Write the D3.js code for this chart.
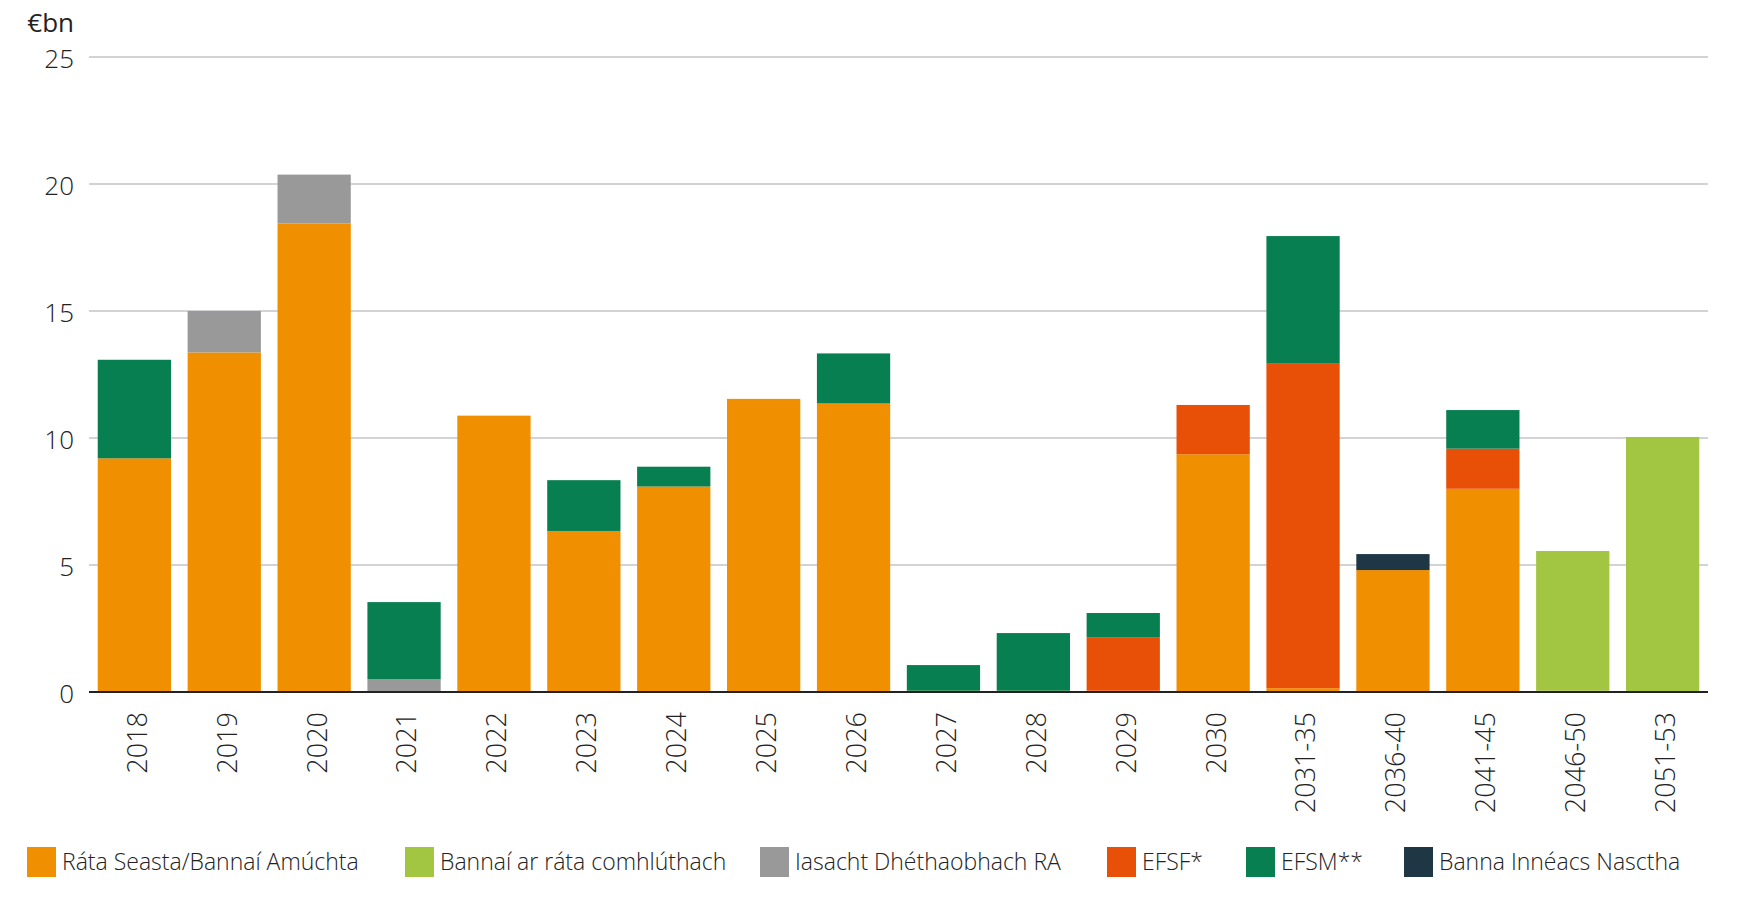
<!DOCTYPE html>
<html><head><meta charset="utf-8">
<script src="https://cdn.jsdelivr.net/npm/d3@7"></script>
<style>
html,body{margin:0;padding:0;background:#fff;}
text{font-family:"Open Sans",sans-serif;font-weight:300;fill:#222;}
</style></head>
<body><svg id="chart" width="1742" height="912"></svg>
<script>
const categories = ["2018","2019","2020","2021","2022","2023","2024","2025","2026","2027","2028","2029","2030","2031-35","2036-40","2041-45","2046-50","2051-53"];
const seriesNames = ["Ráta Seasta/Bannaí Amúchta","Bannaí ar ráta comhlúthach","Iasacht Dhéthaobhach RA","EFSF*","EFSM**","Banna Innéacs Nasctha"];
const seriesColors = ["#F08F00","#A2C542","#999999","#E84F07","#087F50","#1F3744"];
const fixedRate   = [9.2,13.37,18.45,0.03,10.88,6.34,8.09,11.54,11.36,0.05,0.05,0.05,9.36,0.15,4.8,8.0,0.05,0];
const floatingRate= [0,0,0,0,0,0,0,0,0,0,0,0,0,0,0,0,5.5,10.04];
const bilateralUK = [0,1.63,1.92,0.48,0,0,0,0,0,0,0,0,0,0,0,0,0,0];
const efsf        = [0,0,0,0,0,0,0,0,0,0,0,2.09,1.94,12.8,0,1.58,0,0];
const efsm        = [3.88,0,0,3.03,0,2.0,0.78,0,1.97,1.01,2.27,0.97,0,5.0,0,1.52,0,0];
const linkedBond  = [0,0,0,0,0,0,0,0,0,0,0,0,0,0,0.63,0,0,0];
const yTicks = [0,5,10,15,20,25];
const unitLabel = "€bn";

const seriesValues = [fixedRate,floatingRate,bilateralUK,efsf,efsm,linkedBond];
const rows = categories.map((c,i)=>{const r={cat:c}; seriesNames.forEach((s,j)=>r[s]=seriesValues[j][i]); return r;});

const svg = d3.select("#chart");
const m = {left:89,right:1708,top:57,bottom:692};
const x = d3.scaleBand().domain(categories).range([m.left,m.right]).paddingInner(0.185).paddingOuter(0.097);
const y = d3.scaleLinear().domain([0,25]).range([m.bottom,m.top]);

// gridlines
svg.append("g").selectAll("line").data(yTicks.filter(t=>t>0)).join("line")
  .attr("x1",m.left).attr("x2",m.right).attr("y1",d=>y(d)).attr("y2",d=>y(d))
  .attr("stroke","#c5c5ca").attr("stroke-width",1.6);

// y axis labels
const yAxis = d3.axisLeft(y).tickValues(yTicks).tickSize(0).tickPadding(15);
const yg = svg.append("g").attr("transform",`translate(${m.left},0)`).call(yAxis);
yg.select(".domain").remove();
yg.selectAll("text").style("font-size","26px").style("font-family","'Open Sans',sans-serif").style("font-weight",300).attr("fill","#222").attr("dy","0.42em");

svg.append("text").attr("x",74).attr("y",32).attr("text-anchor","end").style("font-size","26px").style("font-weight",400).text(unitLabel);

// stacked bars
const stack = d3.stack().keys(seriesNames)(rows);
svg.append("g").selectAll("g").data(stack).join("g").attr("fill",(d,i)=>seriesColors[i])
  .selectAll("rect").data(d=>d).join("rect")
  .attr("x",d=>x(d.data.cat)).attr("width",x.bandwidth())
  .attr("y",d=>y(d[1])).attr("height",d=>Math.max(0,y(d[0])-y(d[1])));

// baseline
svg.append("line").attr("x1",m.left).attr("x2",m.right).attr("y1",y(0)).attr("y2",y(0)).attr("stroke","#222").attr("stroke-width",2);

// x axis labels
const xAxis = d3.axisBottom(x).tickSize(0).tickPadding(0);
const xg = svg.append("g").attr("transform",`translate(0,${m.bottom})`).call(xAxis);
xg.select(".domain").remove();
xg.selectAll("text").attr("transform","rotate(-90)").attr("text-anchor","end")
  .attr("x",-20).attr("y",0).attr("dy","0.46em")
  .style("font-size","27px").style("font-family","'Open Sans',sans-serif").style("font-weight",300).attr("fill","#222");

// legend (item offsets match the reference layout)
const legendX = [27,405,760,1107,1246,1404];
const lg = svg.append("g").attr("transform","translate(0,847)");
seriesNames.forEach((s,i)=>{
  const g = lg.append("g").attr("transform",`translate(${legendX[i]},0)`);
  g.append("rect").attr("width",29).attr("height",30).attr("fill",seriesColors[i]);
  g.append("text").attr("x",35).attr("y",15).attr("dy","0.36em").style("font-size","23px").text(s);
});
</script></body></html>
